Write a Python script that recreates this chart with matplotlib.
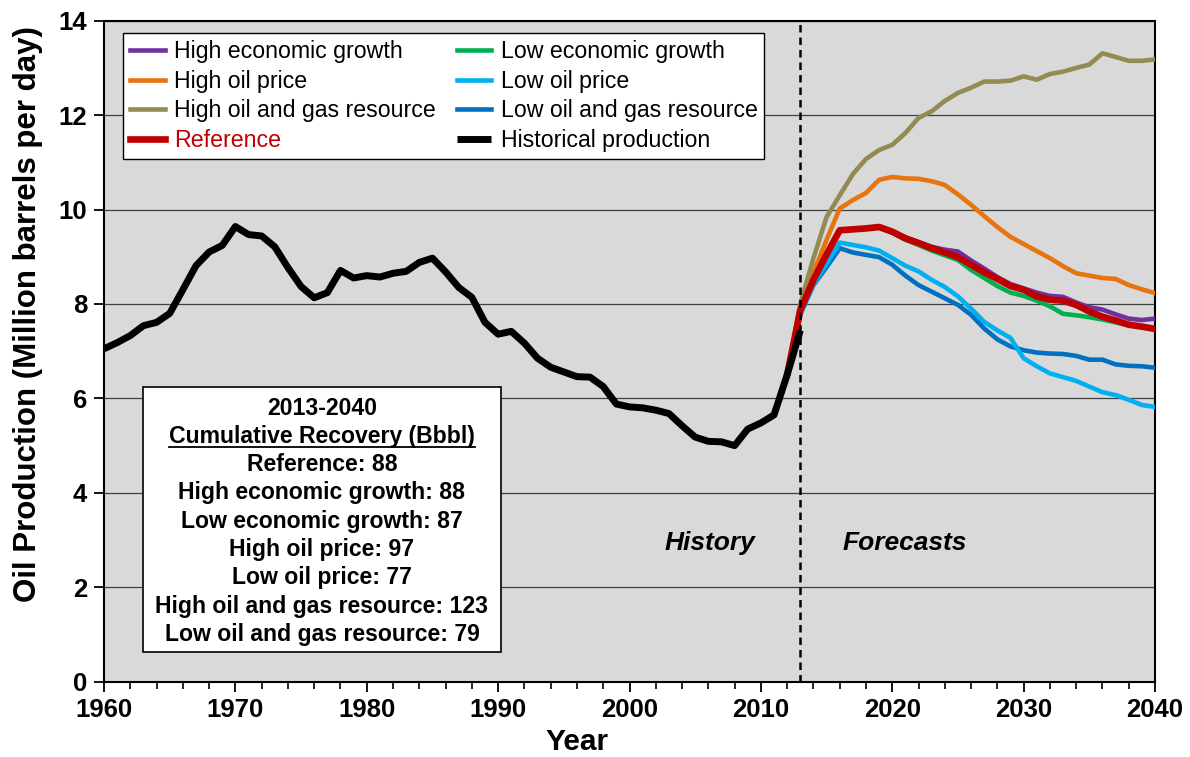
import numpy as np
import matplotlib
matplotlib.use("Agg")
import matplotlib.pyplot as plt
from matplotlib.lines import Line2D

plt.rcParams['font.family'] = ['Liberation Sans', 'DejaVu Sans']

# historical US crude production, million barrels per day
hist_years = np.arange(1960, 2014)
historical = [7.05, 7.18, 7.33, 7.54, 7.61, 7.80, 8.30, 8.81, 9.10, 9.24,
              9.64, 9.47, 9.44, 9.21, 8.77, 8.37, 8.13, 8.24, 8.71, 8.55,
              8.60, 8.57, 8.65, 8.69, 8.88, 8.97, 8.68, 8.35, 8.14, 7.61,
              7.36, 7.42, 7.17, 6.85, 6.66, 6.56, 6.46, 6.45, 6.25, 5.88,
              5.82, 5.80, 5.75, 5.68, 5.42, 5.18, 5.09, 5.08, 5.00, 5.35,
              5.48, 5.65, 6.50, 7.44]

# forecast cases, 2012-2040
fc_years = np.arange(2012, 2041)
reference = [6.50, 7.87, 8.51, 9.05, 9.56, 9.58, 9.60, 9.63, 9.53, 9.39,
             9.29, 9.18, 9.09, 8.99, 8.83, 8.67, 8.53, 8.38, 8.30, 8.16,
             8.09, 8.07, 7.98, 7.84, 7.73, 7.65, 7.56, 7.52, 7.47]
high_econ = [6.50, 7.87, 8.51, 9.05, 9.56, 9.58, 9.60, 9.63, 9.54, 9.41,
             9.31, 9.21, 9.15, 9.11, 8.92, 8.75, 8.57, 8.42, 8.33, 8.24,
             8.17, 8.15, 8.03, 7.93, 7.88, 7.78, 7.69, 7.66, 7.69]
low_econ = [6.50, 7.86, 8.50, 9.04, 9.55, 9.57, 9.59, 9.62, 9.51, 9.36,
            9.25, 9.13, 9.03, 8.93, 8.72, 8.55, 8.38, 8.24, 8.17, 8.07,
            7.95, 7.79, 7.76, 7.72, 7.67, 7.61, 7.55, 7.51, 7.47]
high_price = [6.50, 7.90, 8.66, 9.36, 10.02, 10.20, 10.35, 10.63, 10.69, 10.66,
              10.65, 10.60, 10.52, 10.32, 10.10, 9.86, 9.63, 9.42, 9.27, 9.12,
              8.97, 8.80, 8.65, 8.60, 8.55, 8.53, 8.40, 8.31, 8.23]
low_price = [6.50, 7.80, 8.42, 8.85, 9.30, 9.25, 9.20, 9.13, 8.97, 8.81,
             8.69, 8.51, 8.36, 8.16, 7.90, 7.62, 7.44, 7.28, 6.85, 6.68,
             6.53, 6.45, 6.37, 6.25, 6.13, 6.07, 5.97, 5.86, 5.82]
high_res = [6.50, 8.00, 8.97, 9.84, 10.30, 10.75, 11.07, 11.26, 11.37, 11.62,
            11.94, 12.08, 12.30, 12.47, 12.58, 12.71, 12.71, 12.73, 12.82, 12.75,
            12.87, 12.92, 13.00, 13.07, 13.31, 13.23, 13.15, 13.15, 13.18]
low_res = [6.50, 7.78, 8.40, 8.78, 9.18, 9.09, 9.04, 8.99, 8.83, 8.60,
           8.40, 8.26, 8.12, 7.98, 7.77, 7.48, 7.25, 7.10, 7.02, 6.97,
           6.95, 6.94, 6.90, 6.82, 6.82, 6.72, 6.69, 6.68, 6.65]

box_lines = ["2013-2040", "Cumulative Recovery (Bbbl)", "Reference: 88",
             "High economic growth: 88", "Low economic growth: 87",
             "High oil price: 97", "Low oil price: 77",
             "High oil and gas resource: 123", "Low oil and gas resource: 79"]

fig = plt.figure(figsize=(11.9, 7.57), dpi=100)
ax = fig.add_axes([0.0874, 0.0995, 0.8832, 0.8732])
ax.set_facecolor('#d9d9d9')

ax.plot(fc_years, high_econ, color='#7030a0', lw=3.3, label='High economic growth', zorder=3)
ax.plot(fc_years, low_econ, color='#00b050', lw=3.3, label='Low economic growth', zorder=3)
ax.plot(fc_years, high_price, color='#e8740f', lw=3.3, label='High oil price', zorder=3)
ax.plot(fc_years, low_res, color='#0070c0', lw=3.3, label='Low oil and gas resource', zorder=3)
ax.plot(fc_years, low_price, color='#00b0f0', lw=3.3, label='Low oil price', zorder=3)
ax.plot(fc_years, high_res, color='#948a54', lw=3.3, label='High oil and gas resource', zorder=3)
ax.plot(fc_years, reference, color='#c00000', lw=4.8, label='Reference', zorder=4)
ax.plot(hist_years, historical, color='black', lw=5, label='Historical production',
        zorder=5, solid_capstyle='butt')

ax.axvline(2013, color='black', lw=1.8, ls=(0, (3, 2)), zorder=6)

ax.set_xlim(1960, 2040)
ax.set_ylim(0, 14)
ax.set_xticks(range(1960, 2041, 10))
ax.set_xticks(range(1960, 2041, 2), minor=True)
ax.set_yticks(range(0, 15, 2))
ax.grid(axis='y', color='#404040', lw=0.9, zorder=1)
ax.set_axisbelow(True)
ax.tick_params(axis='both', which='major', direction='out', length=7, width=1.3,
               labelsize=18.5, pad=5)
ax.tick_params(axis='x', which='minor', direction='out', length=5, width=1.2)
for lab in ax.get_xticklabels() + ax.get_yticklabels():
    lab.set_fontweight('bold')
for sp in ax.spines.values():
    sp.set_linewidth(1.5)

ax.set_xlabel('Year', fontsize=21.5, fontweight='bold')
ax.xaxis.set_label_coords(0.45, -0.07)
ax.set_ylabel('Oil Production (Million barrels per day)', fontsize=22.5,
              fontweight='bold')
ax.yaxis.set_label_coords(-0.058, 0.556)

handles, labels = ax.get_legend_handles_labels()
order = ['High economic growth', 'High oil price', 'High oil and gas resource',
         'Reference', 'Low economic growth', 'Low oil price',
         'Low oil and gas resource', 'Historical production']
hl = dict(zip(labels, handles))
leg = ax.legend([hl[k] for k in order], order, ncol=2, loc='upper left',
                bbox_to_anchor=(0.018, 0.981), borderaxespad=0, fontsize=16.7,
                frameon=True, fancybox=False, edgecolor='black', framealpha=1,
                handlelength=1.5, handletextpad=0.4, columnspacing=0.9,
                labelspacing=0.28, borderpad=0.3)
leg.get_frame().set_linewidth(1.0)
for txt in leg.get_texts():
    if txt.get_text() == 'Reference':
        txt.set_color('#c00000')

ax.text(2006.1, 2.94, 'History', fontsize=19, fontweight='bold', style='italic',
        ha='center', va='center')
ax.text(2020.96, 2.94, 'Forecasts', fontsize=19, fontweight='bold', style='italic',
        ha='center', va='center')

# recovery box
bx0, bx1, by0, by1 = 0.0368, 0.378, 0.0454, 0.446
ax.add_patch(plt.Rectangle((bx0, by0), bx1 - bx0, by1 - by0, transform=ax.transAxes,
                           facecolor='white', edgecolor='black', lw=1.2, zorder=7))
cx = (bx0 + bx1) / 2
y0 = 0.414
dy = 0.0428
texts = []
for i, s in enumerate(box_lines):
    t = ax.text(cx, y0 - i * dy, s, transform=ax.transAxes, ha='center', va='center',
                fontsize=16.6, fontweight='bold', zorder=8)
    texts.append(t)

fig.canvas.draw()
r = fig.canvas.get_renderer()
bb = texts[1].get_window_extent(renderer=r)
inv = fig.transFigure.inverted()
(x0f, y0f) = inv.transform((bb.x0, bb.y0 + 1))
(x1f, _) = inv.transform((bb.x1, bb.y0 + 1))
fig.add_artist(Line2D([x0f, x1f], [y0f, y0f], color='black', lw=1.3, zorder=9))

fig.savefig('out.png', dpi=100)
